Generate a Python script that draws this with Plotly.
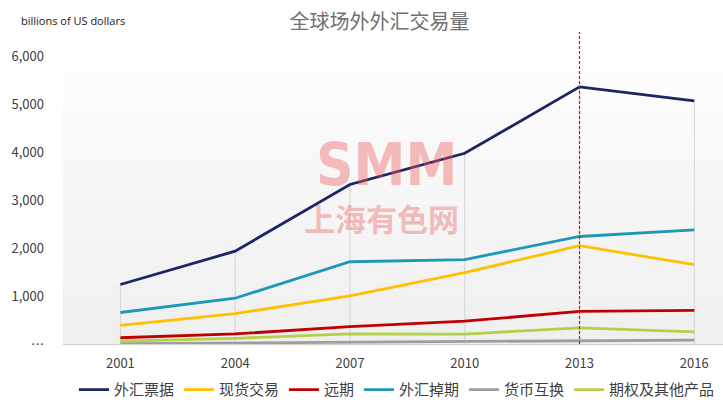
import plotly.graph_objects as go

years = ["2001", "2004", "2007", "2010", "2013", "2016"]
total = [1239, 1934, 3324, 3973, 5357, 5067]
spot = [386, 631, 1005, 1489, 2047, 1652]
forwards = [130, 209, 362, 475, 679, 700]
fx_swaps = [656, 954, 1714, 1759, 2240, 2378]
currency_swaps = [7, 21, 31, 43, 54, 82]
options = [60, 119, 212, 207, 337, 254]

names = ["外汇票据", "现货交易", "远期", "外汇掉期", "货币互换", "期权及其他产品"]
colors = ["#1b2464", "#ffc000", "#c00000", "#1f97b5", "#9e9e9e", "#b2d048"]
series = [total, spot, forwards, fx_swaps, currency_swaps, options]

ytick_vals = [0, 1000, 2000, 3000, 4000, 5000, 6000]
ytick_text = ["…", "1,000", "2,000", "3,000", "4,000", "5,000", "6,000"]

fig = go.Figure()

# drop lines from the top series down to axis
dx, dy = [], []
for yr, t in zip(years, total):
    dx += [yr, yr, None]
    dy += [0, t, None]
fig.add_trace(go.Scatter(x=dx, y=dy, mode="lines", line=dict(color="#d4d4d4", width=1),
                         showlegend=False, hoverinfo="skip"))

for i in range(len(series)):
    fig.add_trace(go.Scatter(x=years, y=series[i], mode="lines", name=names[i],
                             line=dict(color=colors[i], width=2.8)))

# red dotted marker at 2013
fig.add_trace(go.Scatter(x=["2013", "2013"], y=[0, 6500], mode="lines",
                         line=dict(color="#ff0000", width=1.2, dash="3px,2px"),
                         showlegend=False, hoverinfo="skip"))

# gradient background
shapes = []
n = 40
for k in range(n):
    f = k / (n - 1)
    c = int(255 - 16 * (1 - f))
    shapes.append(dict(type="rect", xref="paper", yref="paper", x0=0, x1=1,
                       y0=k / n, y1=(k + 1) / n, fillcolor=f"rgb({c},{c},{c})",
                       line=dict(width=0), layer="below"))

fig.update_layout(
    width=723, height=404,
    margin=dict(l=63, r=0, t=32, b=60, autoexpand=False),
    paper_bgcolor="white", plot_bgcolor="rgba(0,0,0,0)",
    shapes=shapes,
    font=dict(family="Noto Sans CJK SC, Open Sans, sans-serif", color="#404040"),
    title=dict(text="全球场外外汇交易量", x=0.525, xanchor="center", y=0.945, yanchor="middle",
               font=dict(size=20, color="#707070")),
    xaxis=dict(type="category", range=[-0.5, 5.25], showgrid=False, zeroline=False,
               showline=True, linecolor="#d0d0d0", ticks="", tickfont=dict(size=13, color="#404040"),
               ticklabelstandoff=7, automargin=False),
    yaxis=dict(range=[0, 6500], tickvals=ytick_vals, ticktext=ytick_text, showgrid=False,
               zeroline=False, showline=False, tickfont=dict(size=13, color="#404040"),
               ticklabelstandoff=18, automargin=False),
    legend=dict(orientation="h", x=0.506, xanchor="center", y=-0.147, yanchor="middle",
                font=dict(size=15, color="#404040"), tracegroupgap=0,
                bgcolor="rgba(0,0,0,0)"),
    annotations=[
        dict(text="billions of US dollars", xref="paper", yref="paper", x=-0.066, y=1.038,
             xanchor="left", yanchor="middle", showarrow=False,
             font=dict(size=11, color="#202020", family="Open Sans, sans-serif")),
        dict(text="<b>SMM</b>", xref="paper", yref="paper", x=0.49, y=0.575, showarrow=False,
             font=dict(size=58, color="rgba(238,90,90,0.4)", family="DejaVu Sans Condensed")),
        dict(text="<b>上海有色网</b>", xref="paper", yref="paper", x=0.483, y=0.405, showarrow=False,
             font=dict(size=31, color="rgba(238,90,90,0.4)")),
    ],
)

fig.write_html("out.html", config={"displayModeBar": False},
               post_script="document.body.style.margin='0';document.body.style.padding='0';")
